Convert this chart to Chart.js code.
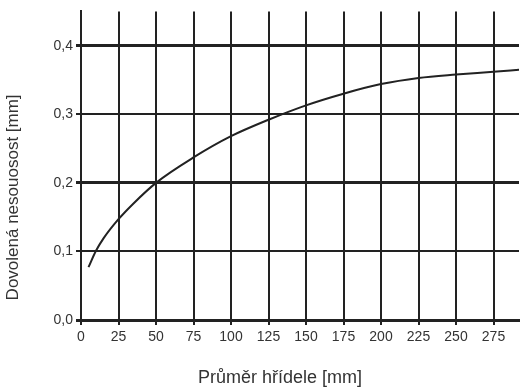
<!DOCTYPE html>
<html>
<head>
<meta charset="utf-8">
<script src="https://cdn.jsdelivr.net/npm/chart.js@4/dist/chart.umd.min.js"></script>
<style>
html,body{margin:0;padding:0;background:#fff;}
#wrap{width:522px;height:389px;}
</style>
</head>
<body>
<div id="wrap"><canvas id="c" width="522" height="389"></canvas></div>
<script>
const diameters = [5, 10, 15, 25, 35, 50, 75, 100, 125, 150, 175, 200, 225, 250, 275, 292];
const misalignment = [0.077, 0.101, 0.119, 0.147, 0.170, 0.200, 0.237, 0.268, 0.292, 0.313, 0.330, 0.344, 0.353, 0.358, 0.362, 0.365];
const xTicks = [0, 25, 50, 75, 100, 125, 150, 175, 200, 225, 250, 275];
const yTicks = [0, 0.1, 0.2, 0.3, 0.4];
const xTitle = 'Průměr hřídele [mm]';
const yTitle = 'Dovolená nesouosost [mm]';

const points = diameters.map((d, i) => ({x: d, y: misalignment[i]}));
const dark = '#222222';
const font = 'Liberation Sans, Arial, sans-serif';

const axisTitles = {
  id: 'axisTitles',
  afterDraw(chart) {
    const ctx = chart.ctx;
    const a = chart.chartArea;
    ctx.save();
    ctx.fillStyle = '#333';
    ctx.textAlign = 'center';
    ctx.textBaseline = 'middle';
    ctx.font = '18px ' + font;
    ctx.fillText(xTitle, a.left + 199, chart.height - 11);
    ctx.font = '17px ' + font;
    ctx.translate(13, a.top + 186);
    ctx.rotate(-Math.PI / 2);
    ctx.fillText(yTitle, 0, 0);
    ctx.restore();
  }
};

new Chart(document.getElementById('c'), {
  type: 'scatter',
  data: {
    datasets: [{
      data: points,
      showLine: true,
      borderColor: dark,
      borderWidth: 2,
      pointRadius: 0,
      cubicInterpolationMode: 'monotone',
      fill: false
    }]
  },
  plugins: [axisTitles],
  options: {
    responsive: false,
    animation: false,
    devicePixelRatio: 1,
    layout: {padding: {top: 7, right: 3, left: 0, bottom: 0}},
    plugins: {legend: {display: false}, tooltip: {enabled: false}},
    scales: {
      x: {
        type: 'linear',
        min: 0,
        max: 292,
        afterFit: s => { s.height = 69; },
        afterBuildTicks: s => { s.ticks = xTicks.map(v => ({value: v})); },
        ticks: {
          color: '#333',
          font: {family: font, size: 14},
          padding: 4,
          maxRotation: 0,
          autoSkip: false
        },
        grid: {
          color: dark,
          lineWidth: 2,
          tickLength: 5,
          drawTicks: true
        },
        border: {display: true, color: dark, width: 3}
      },
      y: {
        type: 'linear',
        min: 0,
        max: 0.45,
        afterFit: s => { s.width = 81; },
        afterBuildTicks: s => { s.ticks = yTicks.map(v => ({value: v})); },
        ticks: {
          color: '#333',
          font: {family: font, size: 14},
          padding: 3,
          callback: v => v.toFixed(1).replace('.', ',')
        },
        grid: {
          color: dark,
          lineWidth: ctx => (Math.round(ctx.tick.value * 10) % 2 === 0 ? 3 : 2),
          tickLength: 5,
          drawTicks: true
        },
        border: {display: true, color: dark, width: 2}
      }
    }
  }
});
</script>
</body>
</html>
